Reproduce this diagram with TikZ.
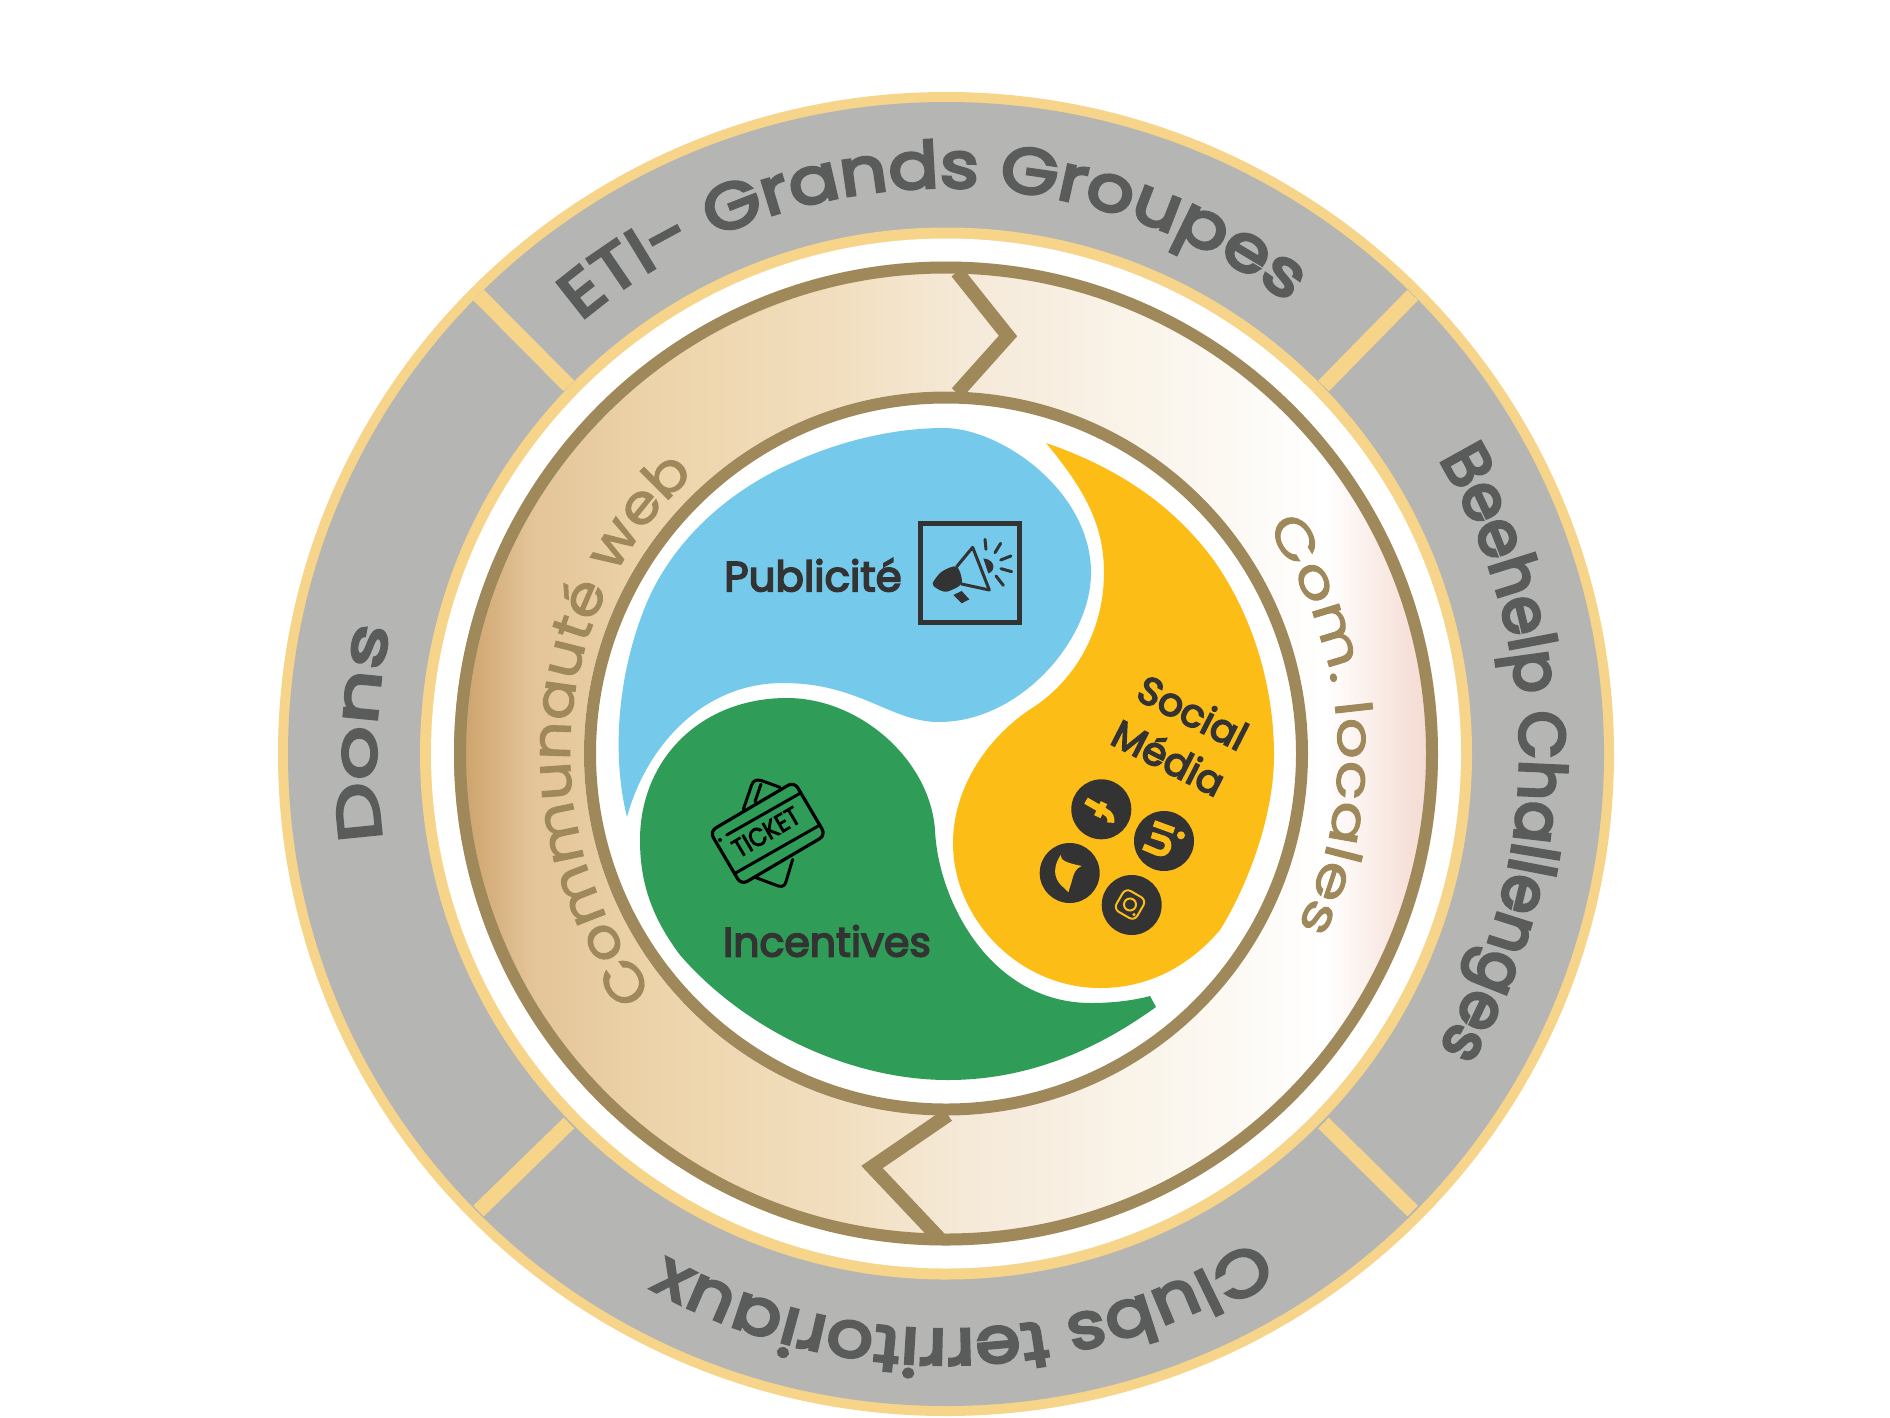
\documentclass[tikz,border=0pt]{standalone}
\usepackage{fontspec}
\setmainfont{Poppins}
\usetikzlibrary{decorations.text}
\definecolor{goldring}{HTML}{F6D48A}
\definecolor{bandgray}{HTML}{B5B5B3}
\definecolor{bandtext}{HTML}{595C5B}
\definecolor{brownring}{HTML}{9F885A}
\definecolor{darktext}{HTML}{333333}
\definecolor{adblue}{HTML}{75CAEC}
\definecolor{socialyellow}{HTML}{FDBD17}
\definecolor{ticketgreen}{HTML}{2F9D58}
\definecolor{shadeA}{HTML}{CDA36C}
\definecolor{shadeB}{HTML}{E3C498}
\definecolor{shadeC}{HTML}{EDD3A9}
\definecolor{shadeD}{HTML}{F2DFC0}
\definecolor{shadeE}{HTML}{F5E9D8}
\definecolor{shadeF}{HTML}{FAF4EA}
\definecolor{shadeG}{HTML}{FFFFFF}
\definecolor{shadeH}{HTML}{F7E4DD}
\definecolor{shadeI}{HTML}{F3D8CF}
\pgfdeclarehorizontalshading{bandshade}{100bp}{color(0bp)=(shadeA); color(25.5bp)=(shadeA); color(28.9bp)=(shadeB); color(35bp)=(shadeC); color(44.8bp)=(shadeD); color(50.9bp)=(shadeE); color(60bp)=(shadeF); color(69.3bp)=(shadeG); color(73bp)=(shadeH); color(75bp)=(shadeI); color(100bp)=(shadeI)}
\newfontfamily\etiface{Poppins}[FakeStretch=1.16,FakeBold=5]
\newfontfamily\beeface{Poppins}[FakeStretch=.97,FakeBold=5]
\newfontfamily\clubface{Poppins}[FakeStretch=1.135,FakeBold=5]
\newfontfamily\donface{Poppins}[FakeStretch=1.42,FakeBold=5]
\newfontfamily\webface{Poppins}[FakeStretch=1.12,FakeBold=2]
\newfontfamily\locface{Poppins}[FakeStretch=1.3,FakeBold=2]
\newfontfamily\labelface{Poppins}[FakeBold=4]
\newfontfamily\tktface{Poppins}[FakeStretch=.88,FakeBold=3]
\newcommand{\bandsize}{\fontsize{64}{64}\selectfont\color{bandtext}}
\newcommand{\donsize}{\fontsize{60}{60}\selectfont\color{bandtext}}
\newcommand{\websize}{\fontsize{54}{54}\selectfont\color{brownring}}
\newcommand{\locsize}{\fontsize{50}{50}\selectfont\color{brownring}}
\begin{document}
\begin{tikzpicture}[x=1pt,y=-1pt,
    curvetext/.style={postaction={decorate},decoration={text along path,text align=center,text={#1}}},
    sep/.style={goldring,line width=15pt},
    zig/.style={brownring,line width=14pt,miter limit=10},
    label/.style={text=darktext,font=\labelface\fontsize{42}{42}\selectfont,inner sep=0pt},
    sociallabel/.style={label,rotate=-27,font=\labelface\fontsize{39}{39}\selectfont},
    round/.style={circle,fill=darktext,minimum size=60pt,inner sep=0pt},
    zoomed/.style={x=.3333pt,y=-.3333pt},
    icon/.style={line width=3pt,line cap=round,line join=round}]
\useasboundingbox (0,0) rectangle (1890,1417);

\begin{scope}[shift={(946,754)}]
\fill[goldring] (0,0) ellipse [x radius=668,y radius=662];
\fill[bandgray] (0,0) ellipse [x radius=658,y radius=652];
\end{scope}
\draw[sep] (478.5,295) -- (569,386);
\draw[sep] (1412.7,295) -- (1323.5,386);
\draw[sep] (478.5,1211) -- (569,1123);
\draw[sep] (1412.7,1211) -- (1323.5,1123);
\begin{scope}[shift={(946,753.5)}]
\fill[goldring] (0,0) circle (526);
\fill[white] (0,0) circle (515);
\shade[shading=bandshade] (0,0) circle (492);
\draw[brownring,line width=12pt] (0,0) circle (486);
\fill[white] (0,0) circle (362);
\draw[brownring,line width=12pt] (0,0) circle (356);
\path[curvetext={|\etiface\bandsize|ETI- Grands Groupes}] (223.5:566) arc [start angle=223.5,end angle=313.5,radius=566];
\path[curvetext={|\beeface\bandsize|Beehelp Challenges}] (-45:574) arc [start angle=-45,end angle=45,radius=574];
\path[curvetext={|\clubface\bandsize|Clubs territoriaux}] (43.3:576) arc [start angle=43.3,end angle=133.3,radius=576];
\path[curvetext={|\donface\donsize|Dons}] (147:570) arc [start angle=147,end angle=217,radius=570];
\path[curvetext={|\webface\websize|Communauté web}] (129.5:376) arc [start angle=129.5,end angle=239.5,radius=376];
\path[curvetext={|\locface\locsize|Com. locales}] (300:392) arc [start angle=300,end angle=411,radius=392];
\end{scope}

\draw[zig] (957,272) -- (1008,336) -- (957,393);
\draw[zig] (948,1115) -- (872,1167) -- (940,1239);

\fill[adblue] (627,817) .. controls (615,770) and (612,690) .. (645,607) .. controls (672,540) and (730,490) .. (792,463) .. controls (835,443) and (890,428) .. (944,428) .. controls (1000,428) and (1091,490) .. (1091,573) .. controls (1091,640) and (1020,722) .. (939,722) .. controls (890,722) and (860,683) .. (783,683) .. controls (700,683) and (645,750) .. (627,817) -- cycle;
\fill[socialyellow] (1046,443) .. controls (1110,465) and (1170,500) .. (1215,562) .. controls (1255,620) and (1274,690) .. (1274,755) .. controls (1274,820) and (1245,890) .. (1220,930) .. controls (1190,965) and (1150,988) .. (1100,988) .. controls (1020,988) and (953,920) .. (953,843) .. controls (953,790) and (985,740) .. (1029,710) .. controls (1075,682) and (1104,630) .. (1104,573) .. controls (1104,525) and (1085,490) .. (1046,443) -- cycle;
\fill[ticketgreen] (1156,1007) .. controls (1110,1040) and (1040,1080) .. (948,1080) .. controls (850,1080) and (745,1030) .. (680,955) .. controls (650,915) and (640,880) .. (640,840) .. controls (640,760) and (700,698) .. (787,698) .. controls (860,698) and (930,760) .. (935,830) .. controls (938,900) and (990,1003) .. (1091,1003) .. controls (1115,1003) and (1135,1000) .. (1150,996) -- cycle;

\node[label] (pub) at (813,575) {Publicité};
\node[label,font=\labelface\fontsize{41}{41}\selectfont] (inc) at (827,941) {Incentives};
\node[sociallabel] (soc) at (1193,712) {Social};
\node[sociallabel] (med) at (1169,757) {Média};

\node[draw=darktext,line width=4.7pt,minimum width=99pt,minimum height=99pt,inner sep=0pt] (box) at (970,573) {};
\begin{scope}[shift={(900,510)},zoomed]
\fill[darktext] plot[smooth cycle] coordinates {(98,220) (125,185) (170,170) (185,220) (140,245) (110,235)};
\draw[darktext,icon] (170,170) -- (218,112) -- (268,240) -- (185,222);
\fill[darktext] (250,145) .. controls (290,150) and (285,185) .. (265,190) -- cycle;
\fill[darktext] (160,255) -- (185,243) -- (208,268) -- (185,280) -- cycle;
\draw[darktext,icon] (255,88) -- (258,118);
\draw[darktext,icon] (302,100) -- (285,128);
\draw[darktext,icon] (333,138) -- (302,150);
\draw[darktext,icon] (335,185) -- (303,176);
\draw[darktext,icon] (310,226) -- (288,198);
\end{scope}

\begin{scope}[shift={(700,760)},zoomed]
\draw[black,icon] (130,148) -- (155,75) .. controls (160,60) and (170,58) .. (185,62) -- (240,82);
\draw[black,icon] (183,72) -- (165,125);
\draw[black,icon] (165,352) -- (235,378) .. controls (250,382) and (255,375) .. (258,365) -- (278,298);
\draw[black,icon] (80,225) -- (300,100);
\draw[black,icon] (105,340) -- (360,195);
\fill[black] (60,240) circle (6);
\end{scope}
\node[draw=black,line width=3.2pt,rounded corners=7pt,rotate=30.5,minimum width=98pt,minimum height=62pt,inner sep=0pt] (tkt) at (767.7,833.3) {};
\node[rotate=30.5,font=\tktface\fontsize{26}{26}\selectfont,text=black,inner sep=0pt] (tktname) at (766,832) {TICKET};

\node[round] (fb) at (1101.3,809.3) {};
\node[round] (li) at (1164,841) {};
\node[round] (tw) at (1069.7,873) {};
\node[round] (ig) at (1131.7,905) {};
\begin{scope}[shift={(1040,640)},zoomed]
\draw[socialyellow,line width=7pt] (138,482) -- (195,515) .. controls (210,522) and (215,535) .. (212,548);
\draw[socialyellow,line width=7pt] (192,488) -- (172,530);
\fill[socialyellow] (423,586) circle (12);
\draw[socialyellow,line width=6.5pt] (342,550) -- (402,572);
\draw[socialyellow,line width=6.5pt] (335,585) -- (372,597) .. controls (395,605) and (385,650) .. (350,637) -- (310,620);
\fill[socialyellow] (62,645) .. controls (62,660) and (75,668) .. (125,678) .. controls (105,685) and (100,705) .. (95,725) -- (85,757) -- (70,742) .. controls (50,725) and (30,695) .. (62,645) -- cycle;
\fill[socialyellow] (282,824) circle (5);
\end{scope}
\node[draw=socialyellow,line width=2pt,rounded corners=6pt,rotate=-30,minimum size=24pt,inner sep=0pt] (igframe) at (1130,904.5) {};
\node[draw=socialyellow,line width=2pt,circle,minimum size=12pt,inner sep=0pt] (iglens) at (1130,904.5) {};
\end{tikzpicture}
\end{document}
